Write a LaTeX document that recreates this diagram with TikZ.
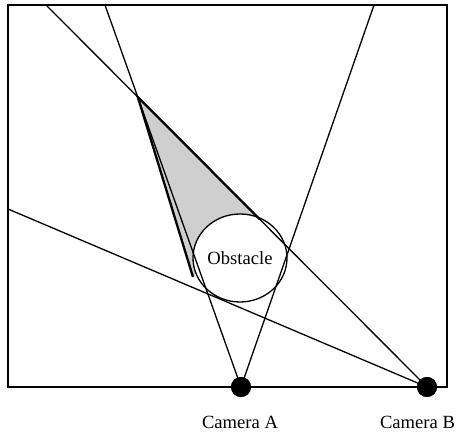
\documentclass[tikz,border=0pt]{standalone}
\usepackage{fontspec}
\setmainfont{Liberation Serif}
\usetikzlibrary{shapes.geometric}
\begin{document}
\begin{tikzpicture}[x=1pt,y=-1pt,line width=1.3pt,
  cam/.style={circle,fill=black,inner sep=0pt,minimum size=20pt},
  obst/.style={ellipse,draw,fill=white,inner sep=0pt,minimum width=94pt,minimum height=88pt,font=\fontsize{18.6}{22}\selectfont},
  lab/.style={anchor=base,inner sep=0pt,font=\fontsize{18.6}{22}\selectfont},
  shade/.style={fill=black!19},
  edge/.style={line width=2.3pt}]
\useasboundingbox (0,0) rectangle (456,435);
\draw (8,5) rectangle (447,387);
% free ends of the view lines
\coordinate (a1) at (105,5);
\coordinate (a2) at (374,5);
\coordinate (b1) at (46,5);
\coordinate (b2) at (8,209);
% occluded region
\coordinate (P) at (137.8,97);
\coordinate (T) at (260,219.5);
\coordinate (L) at (193,277);
\fill[shade] (P) -- (T) -- (L) -- cycle;
\node[obst] (obs) at (240,258) {Obstacle};
\node[cam] (camA) at (241,387) {};
\node[cam] (camB) at (427,387) {};
\draw (camA.center) -- (a1);
\draw (camA.center) -- (a2);
\draw (camB.center) -- (b1);
\draw (camB.center) -- (b2);
\draw[edge] (T) -- (P) -- (L);
\node[cam] at (camA.center) {};
\node[cam] at (camB.center) {};
\node[lab] (labA) at (240,429) {Camera A};
\node[lab] (labB) at (417.5,429) {Camera B};
\end{tikzpicture}
\end{document}
